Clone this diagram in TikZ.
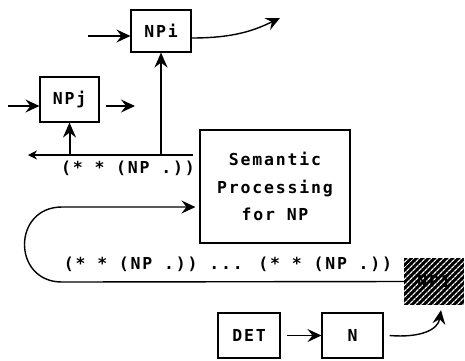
\documentclass[tikz,border=0pt]{standalone}
\usepackage{fontspec}
\newfontfamily\diagfont[LetterSpace=11]{DejaVu Sans Mono}
\usetikzlibrary{arrows.meta,patterns.meta}
\tikzset{
  box/.style={draw=black, line width=1.1pt, inner sep=0pt, font=\fontsize{16.5}{27.5}\selectfont\diagfont\bfseries},
  lbl/.style={inner sep=0pt, font=\fontsize{16.5}{20}\selectfont\diagfont\bfseries},
  arr/.style={line width=1.4pt, -{Stealth[length=14pt,width=13pt,inset=5pt]}},
  thick arr/.style={line width=2pt, -{Stealth[length=15pt,width=13pt,inset=5pt]}},
  plain/.style={line width=1.2pt}
}
\begin{document}
\begin{tikzpicture}[x=1pt,y=-1pt]
\useasboundingbox (0,0) rectangle (465,360);
% boxes
\node[box, minimum width=60pt, minimum height=42pt] (npi) at (161,31) {NPi};
\node[box, minimum width=59pt, minimum height=45pt] (npj) at (69.5,99.5) {NPj};
\node[box, minimum width=150pt, minimum height=113pt, align=center, text depth=0pt] (sem) at (275,186.5) {Semantic\\Processing\\for NP};
\node[minimum width=60pt, minimum height=47pt, inner sep=0pt] (np1) at (434,281.5) {};
\fill[black] (np1.south west) rectangle (np1.north east);
\path[pattern={Lines[angle=45,distance=4pt,line width=1.3pt]}, pattern color=white] (np1.south west) rectangle (np1.north east);
\node[lbl] at (np1) {NP1};
\node[box, minimum width=62pt, minimum height=45pt] (det) at (249,335.5) {DET};
\node[box, minimum width=61pt, minimum height=45pt] (n) at (352.5,335.5) {N};
% coordinates
\coordinate (inI) at (88,36);
\coordinate (outI) at (280,18);
\coordinate (inJ) at (8,106);
\coordinate (outJ) at (135,106);
\coordinate (lineR) at (193,155);
\coordinate (lineL) at (28,155);
\coordinate (baseJ) at (npj.south |- lineR);
\coordinate (baseI) at (npi.south |- lineR);
\coordinate (bl) at (62,282);
\coordinate (tl) at (62,207);
% connectors
\draw[arr] (inI) -- (npi.west |- inI);
\draw[arr] (npi.east |- 0,38) .. controls (235,38) and (255,30) .. (outI);
\draw[arr] (inJ) -- (npj.west |- inJ);
\draw[arr] (npj.east |- outJ) ++(6,0) -- (outJ);
\draw[line width=1.2pt, -{Stealth[length=9pt,width=9pt,inset=3pt]}] (lineR) -- (lineL);
\draw[thick arr] (baseJ) -- (npj.south);
\draw[thick arr] (baseI) -- (npi.south);
\node[lbl] (t1) at (128,168) {(* * (NP .))};
\draw[arr] (np1.west) -- (bl) .. controls (12,282) and (12,207) .. (tl) -- ([xshift=-4pt]sem.west |- tl);
\node[lbl] (t2) at (228,264) {(* * (NP .)) ... (* * (NP .))};
\draw[arr] ([xshift=6pt]det.east) -- (n.west);
\draw[arr] ([xshift=6pt]n.east) .. controls (420,338) and (438,330) .. ([xshift=7pt,yshift=-5pt]np1.south);
\end{tikzpicture}
\end{document}
